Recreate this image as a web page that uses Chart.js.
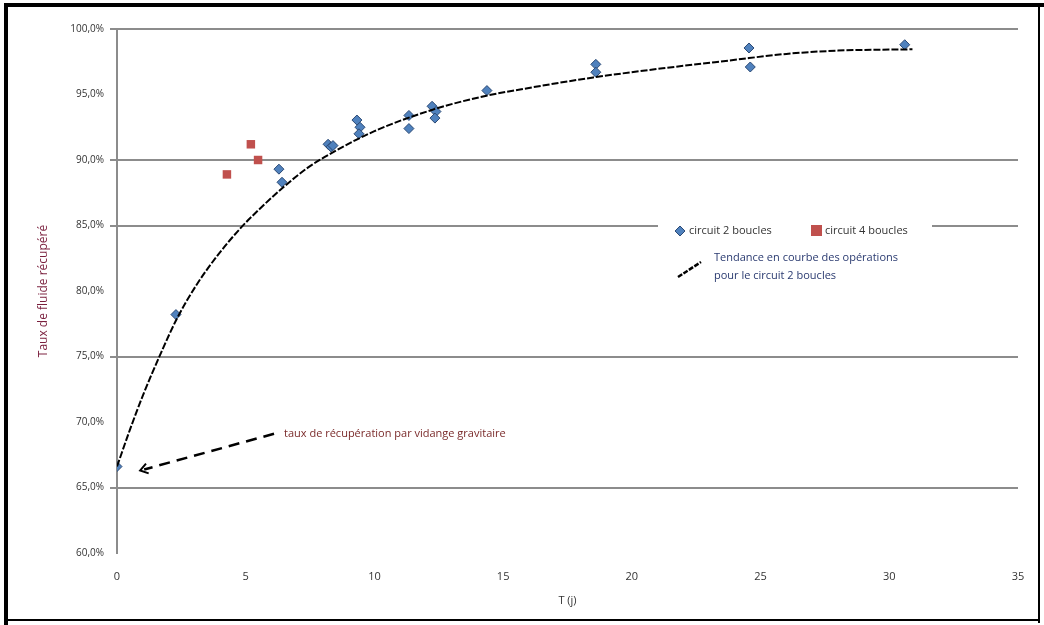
<!DOCTYPE html>
<html><head><meta charset="utf-8">
<script src="https://cdn.jsdelivr.net/npm/chart.js@4.4.0/dist/chart.umd.min.js"></script>
<style>html,body{margin:0;padding:0;background:#fff}#wrap{width:1044px;height:625px;position:relative}</style>
</head><body><div id="wrap"><canvas id="c" width="1044" height="625"></canvas></div>
<script>
const series2Label = "circuit 2 boucles";
const series4Label = "circuit 4 boucles";
const trendLabelLines = ["Tendance en courbe des opérations", "pour le circuit 2 boucles"];
const annotationText = "taux de récupération par vidange gravitaire";
const xTitle = "T (j)";
const yTitle = "Taux de fluide récupéré";

const blueX = [0, 2.29, 6.29, 6.41, 8.2, 8.31, 8.39, 9.32, 9.44, 9.4, 11.34, 11.34, 12.24, 12.39, 12.35, 14.37, 18.6, 18.6, 24.55, 24.6, 30.6];
const blueY = [66.6, 78.2, 89.3, 88.3, 91.2, 91.0, 91.1, 93.05, 92.5, 92.0, 93.4, 92.4, 94.1, 93.7, 93.2, 95.3, 97.3, 96.7, 98.55, 97.1, 98.8];
const redX = [4.27, 5.2, 5.48];
const redY = [88.9, 91.2, 90.0];
const trendX = [0, 0.5, 1.0, 1.67, 2.33, 3.1, 3.9, 4.8, 5.56, 6.45, 7.4, 8.4, 10, 12.2, 14.1, 16.0, 18.5, 21.2, 23.8, 26.0, 28.0, 30.9];
const trendY = [66.6, 69.4, 72.0, 75.1, 77.9, 80.5, 82.7, 84.8, 86.3, 87.9, 89.4, 90.6, 92.2, 93.8, 94.8, 95.5, 96.3, 97.0, 97.6, 98.1, 98.35, 98.45];
const yTickValues = [60, 65, 70, 75, 80, 85, 90, 95, 100];
const yGridShown = [65, 75, 85, 90, 100];
const xTickValues = [0, 5, 10, 15, 20, 25, 30, 35];
const arrowFrom = [6.1, 69.1];
const arrowTo = [0.9, 66.3];

const pts = (xs, ys) => xs.map((x, i) => ({x: x, y: ys[i]}));
const FONT = "'Open Sans', 'DejaVu Sans', sans-serif";

const decor = {
  id: 'decor',
  beforeDraw(chart) {
    const c = chart.ctx;
    c.save();
    c.fillStyle = '#fff';
    c.fillRect(0, 0, chart.width, chart.height);
    c.restore();
  },
  afterDraw(chart) {
    const c = chart.ctx, xs = chart.scales.x, ys = chart.scales.y;
    c.save();
    // frame
    c.fillStyle = '#000';
    c.fillRect(4, 3, 1040, 4);
    c.fillRect(4, 3, 4, 622);
    c.fillRect(1038, 3, 2, 620);
    c.fillRect(4, 619, 1036, 2);
    // legend box
    const lx = 658, ly = 210, lw = 274, lh = 82;
    c.fillStyle = '#fff';
    c.fillRect(lx, ly, lw, lh);
    c.font = '11px ' + FONT;
    c.textBaseline = 'middle';
    const d = chart.data.datasets[0];
    c.fillStyle = d.backgroundColor; c.strokeStyle = d.borderColor; c.lineWidth = 1;
    c.beginPath(); c.moveTo(680, 226); c.lineTo(685, 231); c.lineTo(680, 236); c.lineTo(675, 231); c.closePath(); c.fill(); c.stroke();
    c.fillStyle = '#333';
    c.fillText(d.label, 689, 231);
    const r = chart.data.datasets[1];
    c.fillStyle = r.backgroundColor;
    c.fillRect(811, 225, 11, 11);
    c.fillStyle = '#333';
    c.fillText(r.label, 825, 231);
    // trend legend
    c.strokeStyle = '#000'; c.lineWidth = 2.5; c.setLineDash([5, 1.5]);
    c.beginPath(); c.moveTo(678, 277); c.lineTo(701, 262); c.stroke();
    c.setLineDash([]);
    c.fillStyle = '#2a3a70';
    c.fillText(trendLabelLines[0], 714, 258);
    c.fillText(trendLabelLines[1], 714, 276);
    // arrow annotation
    const x1 = xs.getPixelForValue(arrowFrom[0]), y1 = ys.getPixelForValue(arrowFrom[1]);
    const x2 = xs.getPixelForValue(arrowTo[0]), y2 = ys.getPixelForValue(arrowTo[1]);
    c.strokeStyle = '#000'; c.lineWidth = 2.5; c.setLineDash([11, 7]);
    c.beginPath(); c.moveTo(x1, y1); c.lineTo(x2 + 4, y2 - 1); c.stroke();
    c.setLineDash([]);
    const ang = Math.atan2(y2 - y1, x2 - x1);
    c.lineWidth = 2;
    c.beginPath();
    c.moveTo(x2 + 9 * Math.cos(ang + Math.PI - 0.6), y2 + 9 * Math.sin(ang + Math.PI - 0.6));
    c.lineTo(x2, y2);
    c.lineTo(x2 + 9 * Math.cos(ang + Math.PI + 0.6), y2 + 9 * Math.sin(ang + Math.PI + 0.6));
    c.stroke();
    c.font = '11px ' + FONT;
    c.fillStyle = '#7a2a2a';
    c.textBaseline = 'middle';
    c.fillText(annotationText, x1 + 10, y1);
    c.restore();
  }
};

new Chart(document.getElementById('c'), {
  type: 'scatter',
  data: {
    datasets: [
      {label: series2Label, data: pts(blueX, blueY), pointStyle: 'rectRot', pointRadius: 5, backgroundColor: '#4f81bd', borderColor: '#2c4a75', borderWidth: 1, order: 1},
      {label: series4Label, data: pts(redX, redY), pointStyle: 'rect', pointRadius: 6, backgroundColor: '#c0504d', borderColor: '#c0504d', borderWidth: 0, order: 1},
      {label: trendLabelLines.join(' '), type: 'line', data: pts(trendX, trendY), showLine: true, pointRadius: 0, borderColor: '#000', borderWidth: 2, borderDash: [7, 2], cubicInterpolationMode: 'monotone', fill: false, order: 0}
    ]
  },
  options: {
    responsive: false, animation: false,
    layout: {padding: {left: 32, right: 26, top: 29, bottom: 14}},
    plugins: {legend: {display: false}, tooltip: {enabled: false}},
    scales: {
      x: {
        type: 'linear', min: 0, max: 35,
        afterBuildTicks: s => { s.ticks = xTickValues.map(v => ({value: v})); },
        grid: {display: false}, border: {display: false},
        ticks: {color: '#333', font: {family: FONT, size: 11}, padding: 9},
        title: {display: true, text: xTitle, color: '#333', font: {family: FONT, size: 11}, padding: {top: 0}},
        afterFit: s => { s.height = 625 - 553 - 14; }
      },
      y: {
        type: 'linear', min: 60, max: 100,
        afterBuildTicks: s => { s.ticks = yTickValues.map(v => ({value: v})); },
        grid: {color: ctx => (ctx.tick && yGridShown.includes(ctx.tick.value)) ? '#8c8c8c' : 'rgba(0,0,0,0)', lineWidth: 2, tickLength: 7},
        border: {display: true, color: '#8c8c8c', width: 2},
        ticks: {color: '#333', font: {family: FONT, size: 10}, padding: 6,
          callback: v => v.toFixed(1).replace('.', ',') + '%'},
        title: {display: true, text: yTitle, color: '#7a1f3d', font: {family: FONT, size: 12}, padding: {bottom: 8}},
        afterFit: s => { s.width = 117 - 32; }
      }
    }
  },
  plugins: [decor]
});
</script>
</body></html>
